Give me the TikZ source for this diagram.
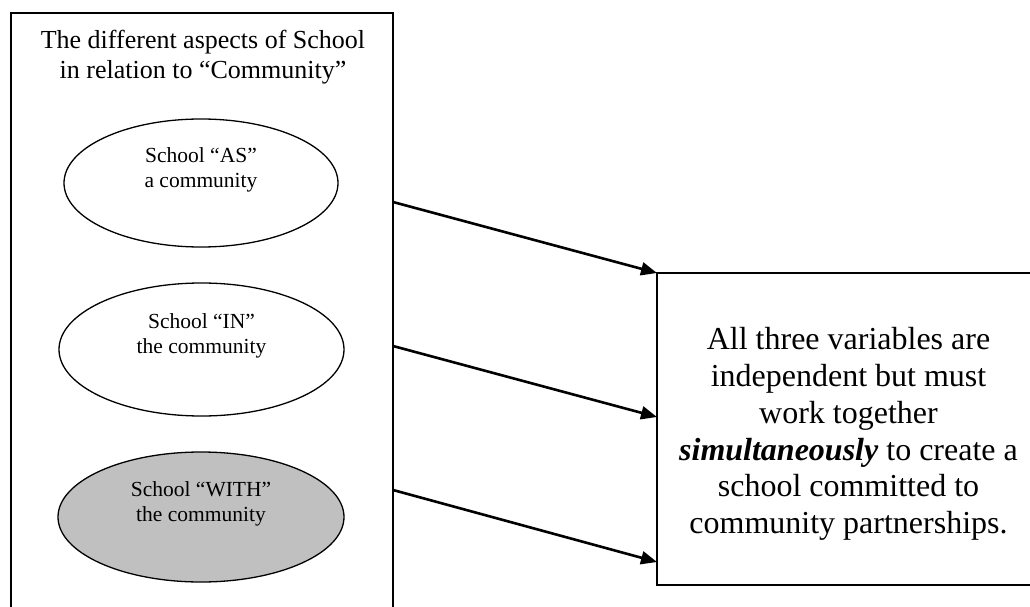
\documentclass[tikz,border=0pt]{standalone}
\usepackage{fontspec}
\setmainfont{Liberation Serif}
\usetikzlibrary{shapes.geometric,arrows.meta}
\definecolor{ovalgrey}{HTML}{C0C0C0}
\begin{document}
\begin{tikzpicture}[x=1pt,y=1pt,
  frame/.style={draw, line width=2pt, rectangle, inner sep=0pt, outer sep=0pt},
  oval/.style={draw, ellipse, line width=1.3pt, inner sep=0pt, outer sep=0pt},
  ovaltext/.style={align=center, inner sep=0pt, font=\fontsize{21.5}{25}\selectfont},
  link/.style={-{Triangle[length=16pt,width=13pt]}, line width=2.6pt},
]
\useasboundingbox (0,0) rectangle (1030,-607);
\fill[white] (0,0) rectangle (1030,-607);
\clip (0,0) rectangle (1030,-607);

% left panel, open below the page edge
\node[frame, minimum width=382.5pt, minimum height=637pt] (aspects) at (201.75,-331.5) {};
\node[align=center, inner sep=0pt, font=\fontsize{26}{30}\selectfont] (heading) at (203,-57)
  {The different aspects of School\\in relation to “Community”};

% the three ovals
\node[oval, minimum width=274pt, minimum height=128pt] (as) at (201,-183) {};
\node[ovaltext] (astext) at (201,-169.5) {School “AS”\\a community};
\node[oval, minimum width=285pt, minimum height=133pt] (in) at (201.5,-349.5) {};
\node[ovaltext] (intext) at (201.5,-336) {School “IN”\\the community};
\node[oval, fill=ovalgrey, minimum width=286pt, minimum height=130pt] (with) at (201,-517) {};
\node[ovaltext] (withtext) at (201,-503.5) {School “WITH”\\the community};

% right panel, open past the page edge
\node[frame, minimum width=403pt, minimum height=312pt] (result) at (858.5,-429) {};
\node[align=center, inner sep=0pt, font=\fontsize{32}{36.8}\selectfont] (summary) at (848.5,-434)
  {All three variables are\\independent but must\\work together\\\textbf{\textit{simultaneously}} to create a\\school committed to\\community partnerships.};

% connectors
\draw[link] ([yshift=-189pt]aspects.north east) -- (result.north west);
\draw[link] ([yshift=-333pt]aspects.north east) -- ([yshift=-144pt]result.north west);
\draw[link] ([yshift=-477pt]aspects.north east) -- ([yshift=-289pt]result.north west);
\end{tikzpicture}
\end{document}
